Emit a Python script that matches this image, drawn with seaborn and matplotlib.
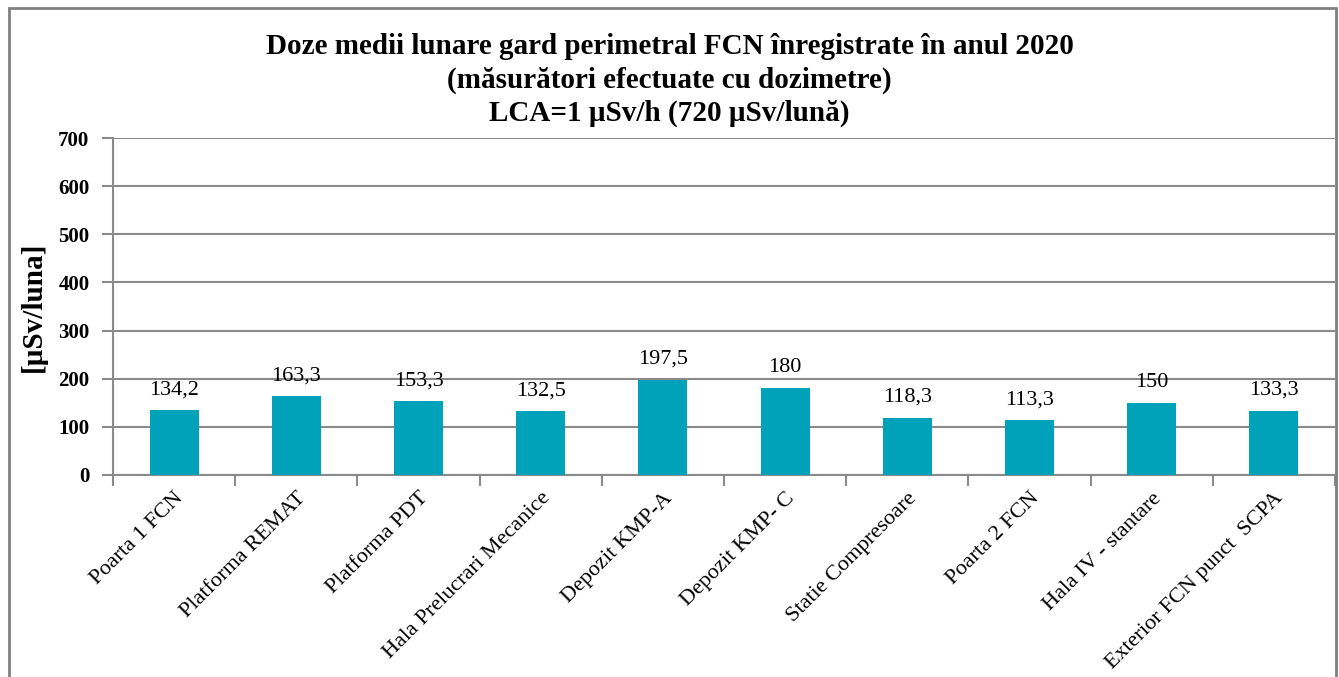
import matplotlib
matplotlib.use("Agg")
import matplotlib.pyplot as plt
from matplotlib.patches import Rectangle
import seaborn as sns
import pandas as pd

locations = [
    "Poarta 1 FCN",
    "Platforma REMAT",
    "Platforma PDT",
    "Hala Prelucrari Mecanice",
    "Depozit KMP-A",
    "Depozit KMP- C",
    "Statie Compresoare",
    "Poarta 2 FCN",
    "Hala IV - stantare",
    "Exterior FCN punct  SCPA",
]
doses = [134.2, 163.3, 153.3, 132.5, 197.5, 180, 118.3, 113.3, 150, 133.3]
y_ticks = [0, 100, 200, 300, 400, 500, 600, 700]

title_lines = [
    "Doze medii lunare gard perimetral FCN înregistrate în anul 2020",
    "(măsurători efectuate cu dozimetre)",
    "LCA=1 µSv/h (720 µSv/lună)",
]

sns.set_theme(style="white")
plt.rcParams["font.family"] = ["Liberation Serif", "DejaVu Serif"]
plt.rcParams["text.color"] = "black"
plt.rcParams["xtick.color"] = "black"
plt.rcParams["ytick.color"] = "black"
plt.rcParams["axes.labelcolor"] = "black"

df = pd.DataFrame({"loc": locations, "dose": doses})

fig = plt.figure(figsize=(13.39, 6.77), dpi=100)
ax = fig.add_axes([113 / 1339, 1 - 475 / 677, (1335 - 113) / 1339, (475 - 138) / 677])

sns.barplot(data=df, x="loc", y="dose", color="#00A2BA", width=0.4,
            saturation=1, ax=ax, zorder=3, edgecolor="none")

ax.set_ylim(0, 700)
ax.set_xlim(-0.5, len(locations) - 0.5)
ax.set_yticks(y_ticks)
ax.set_yticklabels([str(v) for v in y_ticks], fontsize=15, fontweight="bold")
ax.yaxis.grid(True, color="#8a8a8a", linewidth=1.5, zorder=0)
ax.set_axisbelow(True)

# category ticks sit on the boundaries between bars
ax.set_xticks([i + 0.5 for i in range(-1, len(locations))], minor=False)
ax.set_xticklabels([])
ax.set_xticks(range(len(locations)), minor=True)
ax.set_xticklabels(locations, minor=True, rotation=45, ha="right",
                   rotation_mode="anchor", fontsize=16)
ax.tick_params(axis="x", which="minor", length=0, pad=10)
ax.tick_params(axis="x", which="major", direction="out", length=8,
               width=1.5, color="#8a8a8a", bottom=True)
ax.tick_params(axis="y", direction="out", length=8, width=1.5,
               color="#8a8a8a", left=True, pad=9)

for side in ["top", "right"]:
    ax.spines[side].set_visible(False)
for side in ["left", "bottom"]:
    ax.spines[side].set_color("#8a8a8a")
    ax.spines[side].set_linewidth(1.5)

ax.set_xlabel("")
ax.set_ylabel("[µSv/luna]", fontsize=21, fontweight="bold", labelpad=8)

for i, v in enumerate(doses):
    txt = f"{v:g}".replace(".", ",")
    ax.annotate(txt, (i, v), xytext=(0, 8), textcoords="offset points",
                ha="center", va="bottom", fontsize=16)

for k, line in enumerate(title_lines):
    fig.text(0.5, 1 - (47 + 33 * k) / 677, line, ha="center", va="center",
             fontsize=21, fontweight="bold")

fig.add_artist(Rectangle((9 / 1339, -0.05), (1336 - 9) / 1339, 1.05 - 8 / 677,
                         transform=fig.transFigure, fill=False,
                         edgecolor="#808080", linewidth=2))

fig.savefig("out.png", dpi=100)
